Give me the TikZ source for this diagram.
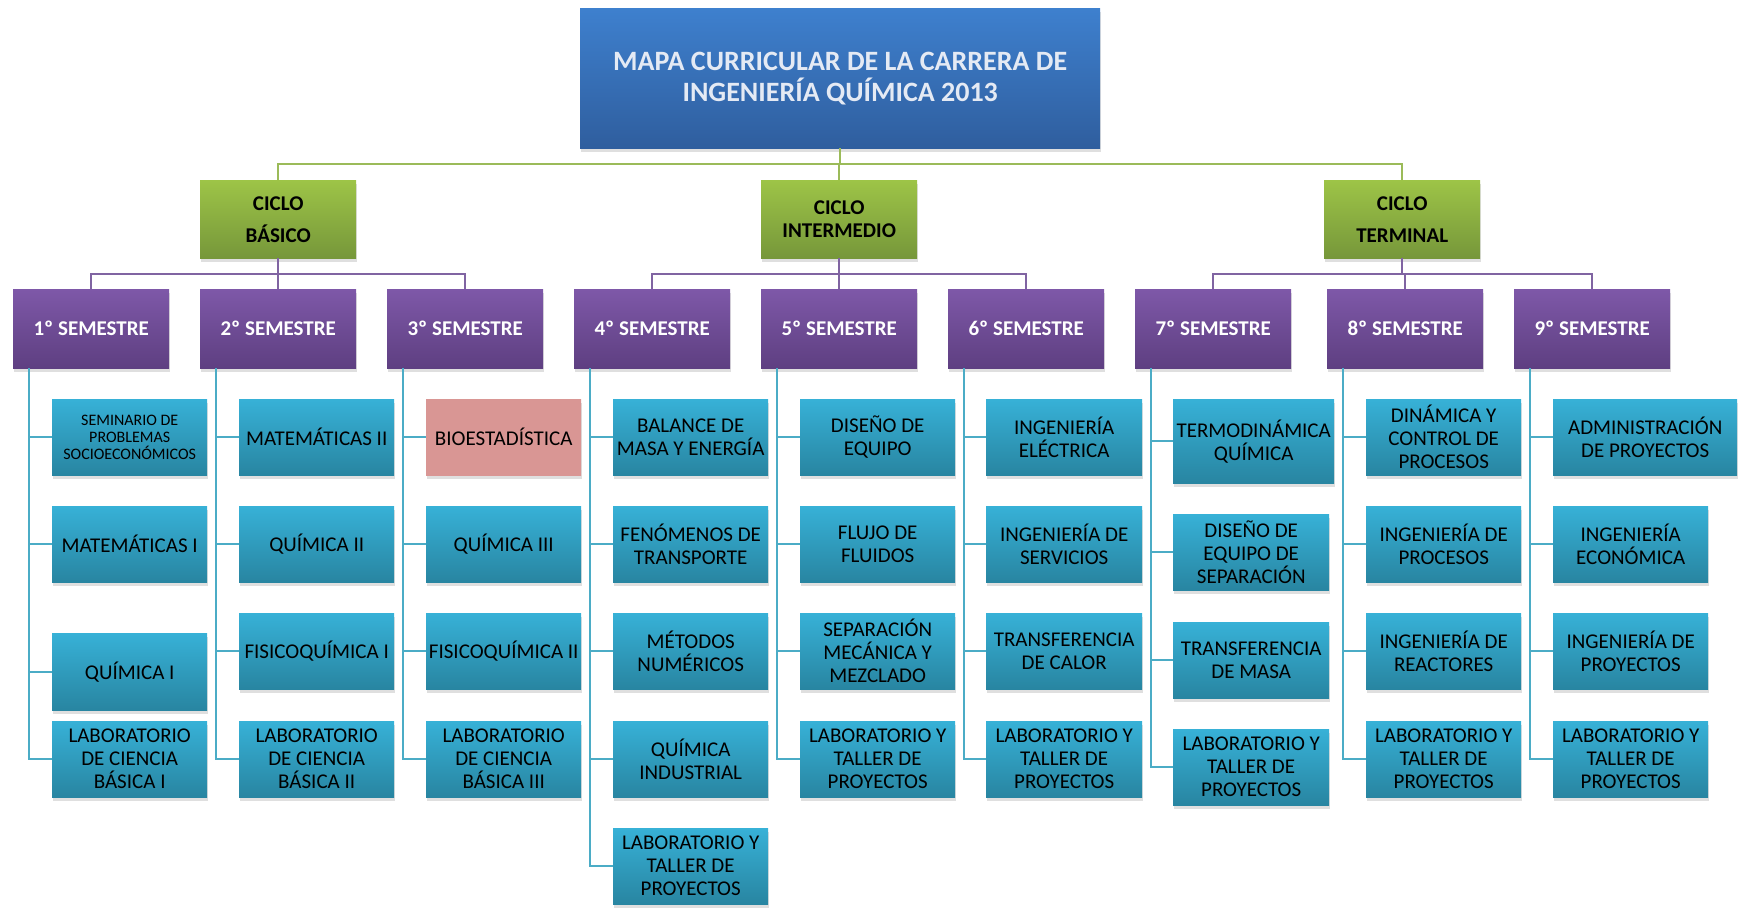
\documentclass[tikz,border=0pt]{standalone}
\usepackage{fontspec}
\setmainfont{Carlito}
\usetikzlibrary{positioning}
\usetikzlibrary{shadows}

\definecolor{titletop}{HTML}{3E80CE}
\definecolor{titlebot}{HTML}{2F5E9E}
\definecolor{titletext}{HTML}{E4EAF4}
\definecolor{greentop}{HTML}{9DC447}
\definecolor{greenbot}{HTML}{76973A}
\definecolor{purpletop}{HTML}{7E58A8}
\definecolor{purplebot}{HTML}{5E3F81}
\definecolor{cyantop}{HTML}{37B1D7}
\definecolor{cyanbot}{HTML}{2885A1}
\definecolor{pinkbox}{HTML}{D99694}
\definecolor{linegreen}{HTML}{9BBB59}
\definecolor{linepurple}{HTML}{8064A2}
\definecolor{linecyan}{HTML}{4BACC6}

\tikzset{
	box/.style = {rectangle, inner sep = 1pt, align = center, anchor = north west, drop shadow = {shadow xshift = 1pt, shadow yshift = -4pt, opacity = 0.25}},
	titlebox/.style = {box, top color = titletop, bottom color = titlebot, text = titletext, font = \bfseries\fontsize{28}{31}\selectfont, minimum width = 520pt, minimum height = 140pt},
	ciclo/.style = {box, top color = greentop, bottom color = greenbot, text = black, font = \bfseries\fontsize{21}{23}\selectfont, minimum width = 156pt, minimum height = 78pt},
	sem/.style = {box, top color = purpletop, bottom color = purplebot, text = white, font = \bfseries\fontsize{21}{23}\selectfont, minimum width = 156pt, minimum height = 79pt},
	course/.style = {box, top color = cyantop, bottom color = cyanbot, text = black, font = \fontsize{21}{23}\selectfont, minimum width = 155pt, minimum height = 76pt},
	pinkcourse/.style = {course, top color = pinkbox, bottom color = pinkbox},
	greenline/.style = {draw = linegreen, line width = 2pt},
	purpleline/.style = {draw = linepurple, line width = 2pt},
	cyanline/.style = {draw = linecyan, line width = 2pt}
}

\begin{document}
\begin{tikzpicture}[x = 1pt, y = -1pt]
	\useasboundingbox (0, 0) rectangle (1745, 914);
	\clip (0, 0) rectangle (1745, 914);

	% titulo y ciclos
	\node[titlebox] (mapa) at (580, 8) {MAPA CURRICULAR DE LA CARRERA DE\\INGENIERÍA QUÍMICA 2013};
	\node[ciclo] (basico) at (200, 180) {CICLO\\[9pt]BÁSICO};
	\node[ciclo] (intermedio) at (761, 180) {CICLO\\INTERMEDIO};
	\node[ciclo] (terminal) at (1324, 180) {CICLO\\[9pt]TERMINAL};

	% semestres
	\node[sem] (s1) at (13, 289) {1º SEMESTRE};
	\node[sem] (s2) at (200, 289) {2º SEMESTRE};
	\node[sem] (s3) at (387, 289) {3º SEMESTRE};
	\node[sem] (s4) at (574, 289) {4º SEMESTRE};
	\node[sem] (s5) at (761, 289) {5º SEMESTRE};
	\node[sem] (s6) at (948, 289) {6º SEMESTRE};
	\node[sem] (s7) at (1135, 289) {7º SEMESTRE};
	\node[sem] (s8) at (1327, 289) {8º SEMESTRE};
	\node[sem] (s9) at (1514, 289) {9º SEMESTRE};

	% materias
	\node[course, font = \fontsize{16}{17}\selectfont] (s1a) at (52, 399) {SEMINARIO DE\\PROBLEMAS\\SOCIOECONÓMICOS};
	\node[course] (s1b) at (52, 506) {MATEMÁTICAS I};
	\node[course, minimum height = 77pt] (s1c) at (52, 633) {QUÍMICA I};
	\node[course] (s1d) at (52, 721) {LABORATORIO\\DE CIENCIA\\BÁSICA I};

	\node[course] (s2a) at (239, 399) {MATEMÁTICAS II};
	\node[course] (s2b) at (239, 506) {QUÍMICA II};
	\node[course] (s2c) at (239, 613) {FISICOQUÍMICA I};
	\node[course] (s2d) at (239, 721) {LABORATORIO\\DE CIENCIA\\BÁSICA II};

	\node[pinkcourse] (s3a) at (426, 399) {BIOESTADÍSTICA};
	\node[course] (s3b) at (426, 506) {QUÍMICA III};
	\node[course] (s3c) at (426, 613) {FISICOQUÍMICA II};
	\node[course] (s3d) at (426, 721) {LABORATORIO\\DE CIENCIA\\BÁSICA III};

	\node[course] (s4a) at (613, 399) {BALANCE DE\\MASA Y ENERGÍA};
	\node[course] (s4b) at (613, 506) {FENÓMENOS DE\\TRANSPORTE};
	\node[course] (s4c) at (613, 613) {MÉTODOS\\NUMÉRICOS};
	\node[course] (s4d) at (613, 721) {QUÍMICA\\INDUSTRIAL};
	\node[course] (s4e) at (613, 828) {LABORATORIO Y\\TALLER DE\\PROYECTOS};

	\node[course] (s5a) at (800, 399) {DISEÑO DE\\EQUIPO};
	\node[course] (s5b) at (800, 506) {FLUJO DE\\FLUIDOS};
	\node[course] (s5c) at (800, 613) {SEPARACIÓN\\MECÁNICA Y\\MEZCLADO};
	\node[course] (s5d) at (800, 721) {LABORATORIO Y\\TALLER DE\\PROYECTOS};

	\node[course, minimum width = 156pt] (s6a) at (986, 399) {INGENIERÍA\\ELÉCTRICA};
	\node[course, minimum width = 156pt] (s6b) at (986, 506) {INGENIERÍA DE\\SERVICIOS};
	\node[course, minimum width = 156pt] (s6c) at (986, 613) {TRANSFERENCIA\\DE CALOR};
	\node[course, minimum width = 156pt] (s6d) at (986, 721) {LABORATORIO Y\\TALLER DE\\PROYECTOS};

	\node[course, minimum width = 161pt, minimum height = 84pt] (s7a) at (1173, 399) {TERMODINÁMICA\\QUÍMICA};
	\node[course, minimum width = 156pt] (s7b) at (1173, 514) {DISEÑO DE\\EQUIPO DE\\SEPARACIÓN};
	\node[course, minimum width = 156pt] (s7c) at (1173, 622) {TRANSFERENCIA\\DE MASA};
	\node[course, minimum width = 156pt] (s7d) at (1173, 729) {LABORATORIO Y\\TALLER DE\\PROYECTOS};

	\node[course] (s8a) at (1366, 399) {DINÁMICA Y\\CONTROL DE\\PROCESOS};
	\node[course] (s8b) at (1366, 506) {INGENIERÍA DE\\PROCESOS};
	\node[course] (s8c) at (1366, 613) {INGENIERÍA DE\\REACTORES};
	\node[course] (s8d) at (1366, 721) {LABORATORIO Y\\TALLER DE\\PROYECTOS};

	\node[course, minimum width = 184pt] (s9a) at (1553, 399) {ADMINISTRACIÓN\\DE PROYECTOS};
	\node[course] (s9b) at (1553, 506) {INGENIERÍA\\ECONÓMICA};
	\node[course] (s9c) at (1553, 613) {INGENIERÍA DE\\PROYECTOS};
	\node[course] (s9d) at (1553, 721) {LABORATORIO Y\\TALLER DE\\PROYECTOS};

	% conectores
	\foreach \c in {basico, intermedio, terminal}
		\draw[greenline] (mapa.south) -- ++(0, 16) -| (\c.north);
	\foreach \s in {s1, s2, s3}
		\draw[purpleline] (basico.south) -- ++(0, 16) -| (\s.north);
	\foreach \s in {s4, s5, s6}
		\draw[purpleline] (intermedio.south) -- ++(0, 16) -| (\s.north);
	\foreach \s in {s7, s8, s9}
		\draw[purpleline] (terminal.south) -- ++(0, 16) -| (\s.north);
	\foreach \s in {s1, s2, s3, s5, s6, s7, s8, s9}
		\foreach \r in {a, b, c, d}
			\draw[cyanline] ([xshift = 16pt]\s.south west) |- (\s\r.west);
	\foreach \r in {a, b, c, d, e}
		\draw[cyanline] ([xshift = 16pt]s4.south west) |- (s4\r.west);
\end{tikzpicture}
\end{document}
